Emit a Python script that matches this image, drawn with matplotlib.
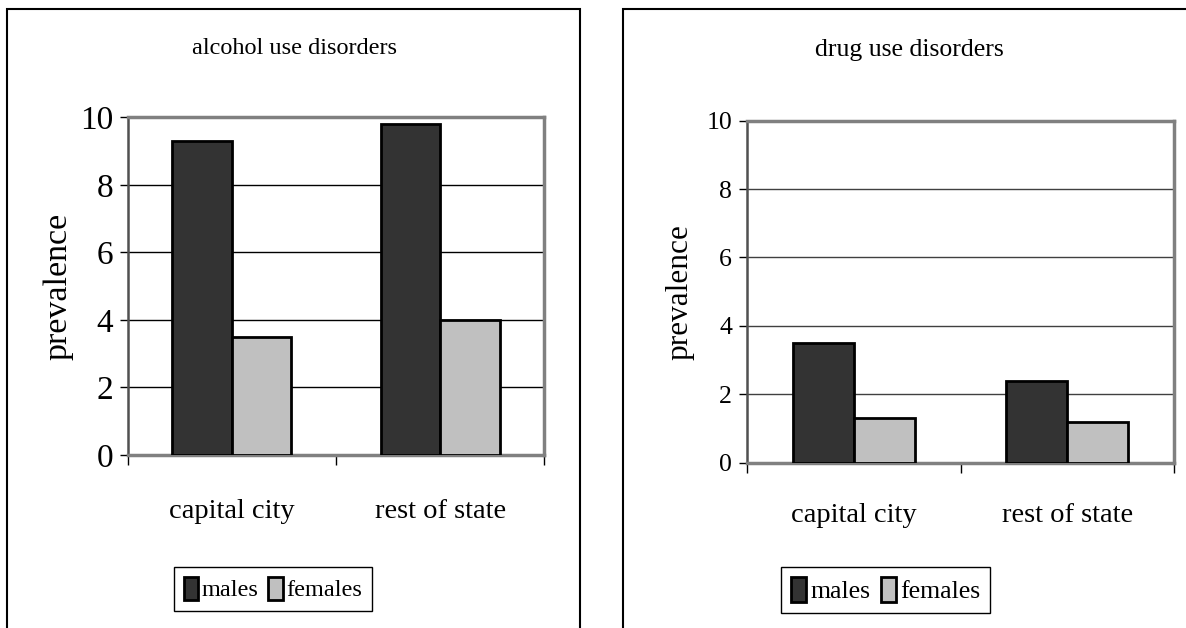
import numpy as np
import matplotlib
matplotlib.use("Agg")
import matplotlib.pyplot as plt
from matplotlib.patches import Rectangle, Patch

plt.rcParams["font.family"] = ["Liberation Serif", "DejaVu Serif"]

W, H = 1186, 628

categories = ["capital city", "rest of state"]
series = ["males", "females"]
alcohol_males = [9.3, 9.8]
alcohol_females = [3.5, 4.0]
drug_males = [3.5, 2.4]
drug_females = [1.3, 1.2]
y_ticks = [0, 2, 4, 6, 8, 10]

colors = ["#333333", "#c0c0c0"]

fig = plt.figure(figsize=(W / 100, H / 100), dpi=100)


def px_box(x0, x1, ytop, ybot):
    # pixel box -> figure fraction [left, bottom, width, height]
    return [x0 / W, (H - ybot) / H, (x1 - x0) / W, (ybot - ytop) / H]


def draw_panel(box, males, females, tick_fs, grid_color, xpad):
    ax = fig.add_axes(box)
    x = np.arange(len(categories))
    bw = 2 / 7
    ax.bar(x - bw / 2, males, bw, color=colors[0], edgecolor="black",
           linewidth=2, zorder=3)
    ax.bar(x + bw / 2, females, bw, color=colors[1], edgecolor="black",
           linewidth=2, zorder=3)
    ax.set_xlim(-0.5, 1.5)
    ax.set_ylim(0, 10)
    ax.set_yticks(y_ticks)
    ax.set_yticklabels([str(t) for t in y_ticks], fontsize=tick_fs)
    ax.tick_params(axis="y", direction="out", length=5.5, width=1,
                   color="black", pad=5)
    ax.set_xticks(x)
    ax.set_xticklabels(categories, fontsize=20.5)
    ax.tick_params(axis="x", which="major", length=0, pad=xpad)
    ax.set_xticks([-0.5, 0.5, 1.5], minor=True)
    ax.tick_params(axis="x", which="minor", direction="out", length=7,
                   width=1, color="black")
    ax.yaxis.grid(True, color=grid_color, linewidth=1)
    ax.set_axisbelow(True)
    for s in ["top", "right", "bottom"]:
        ax.spines[s].set_color("#808080")
        ax.spines[s].set_linewidth(2.5)
    ax.spines["left"].set_color("#505050")
    ax.spines["left"].set_linewidth(1.8)
    return ax


# left chart: alcohol
draw_panel(px_box(127.7, 544.3, 117.3, 455), alcohol_males, alcohol_females,
           24, "black", 32)
fig.text(294 / W, 1 - 48 / H, "alcohol use disorders", fontsize=17.5,
         ha="center", va="center")
fig.text(58 / W, 1 - 286 / H, "prevalence", fontsize=24.5, rotation=90,
         ha="center", va="center")

# right chart: drugs
draw_panel(px_box(746.7, 1174.3, 120.7, 462.7), drug_males, drug_females,
           18.5, "#404040", 29)
fig.text(909 / W, 1 - 50 / H, "drug use disorders", fontsize=18.5,
         ha="center", va="center")
fig.text(680 / W, 1 - 291.7 / H, "prevalence", fontsize=22.5, rotation=90,
         ha="center", va="center")

# legends
for cx, cy, fs in [(273, 589, 17.5), (885.5, 590, 18.5)]:
    handles = [Patch(facecolor=c, edgecolor="black", linewidth=2, label=s)
               for c, s in zip(colors, series)]
    fig.legend(handles=handles, loc="center", ncol=2,
               bbox_to_anchor=(cx / W, 1 - cy / H), fontsize=fs,
               frameon=True, fancybox=False, edgecolor="black",
               framealpha=1, handlelength=0.6, handleheight=1.1,
               handletextpad=0.15, columnspacing=0.4, borderpad=0.4)

# panel borders
fig.add_artist(Rectangle((7 / W, -0.1), (580 - 7) / W, 1.1 - 9 / H,
                         transform=fig.transFigure, fill=False,
                         edgecolor="black", linewidth=1.5))
fig.add_artist(Rectangle((623 / W, -0.1), 0.6, 1.1 - 9 / H,
                         transform=fig.transFigure, fill=False,
                         edgecolor="black", linewidth=1.5))

fig.savefig("out.png", dpi=100)
